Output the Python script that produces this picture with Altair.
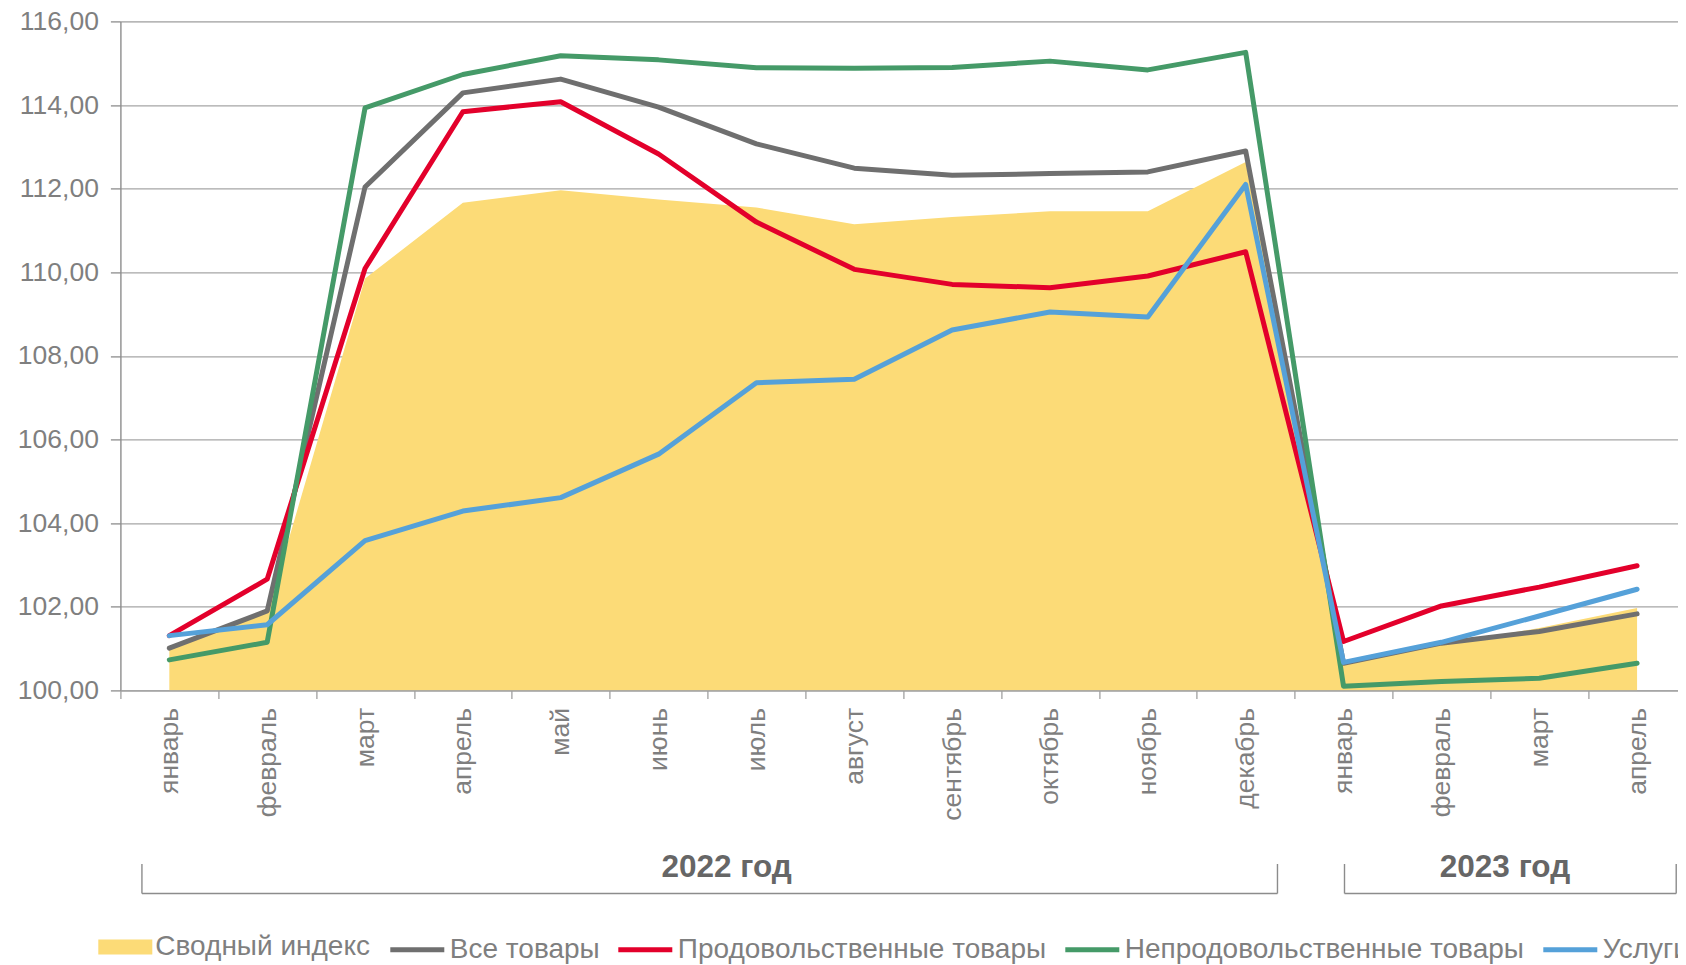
import altair as alt
import pandas as pd

# ---- data ----
MONTHS = ["январь", "февраль", "март", "апрель", "май", "июнь", "июль", "август",
          "сентябрь", "октябрь", "ноябрь", "декабрь",
          "январь", "февраль", "март", "апрель"]
YEARS = [2022] * 12 + [2023] * 4
KEYS = [f"{m} {y}" for m, y in zip(MONTHS, YEARS)]

SERIES = ["Сводный индекс", "Все товары", "Продовольственные товары",
          "Непродовольственные товары", "Услуги"]

SVODNY = [101.00, 101.85, 109.85, 111.66, 111.96, 111.74, 111.55, 111.15,
          111.32, 111.46, 111.46, 112.64, 100.60, 101.10, 101.49, 101.97]
VSE = [101.01, 101.90, 112.04, 114.29, 114.62, 113.95, 113.07, 112.49,
       112.32, 112.36, 112.40, 112.90, 100.65, 101.13, 101.41, 101.83]
PROD = [101.31, 102.66, 110.09, 113.84, 114.08, 112.83, 111.20, 110.07,
        109.71, 109.63, 109.91, 110.49, 101.17, 102.02, 102.47, 102.98]
NEPROD = [100.73, 101.15, 113.93, 114.73, 115.18, 115.08, 114.89, 114.88,
          114.90, 115.05, 114.84, 115.26, 100.10, 100.21, 100.29, 100.65]
USLUGI = [101.31, 101.57, 103.58, 104.29, 104.61, 105.65, 107.36, 107.44,
          108.62, 109.05, 108.93, 112.10, 100.67, 101.15, 101.78, 102.42]

COLORS = ["#FCDB77", "#6F6F6F", "#E3002B", "#459A68", "#55A1D9"]
Y_TICKS = [100, 102, 104, 106, 108, 110, 112, 114, 116]

GROUP_LABELS = ["2022 год", "2023 год"]
GROUP_FIRST = ["январь 2022", "январь 2023"]
GROUP_LAST = ["декабрь 2022", "апрель 2023"]
GROUP_MID = ["июль 2022", "март 2023"]

# ---- tables ----
rows = []
for s, vals in zip(SERIES, [SVODNY, VSE, PROD, NEPROD, USLUGI]):
    for k, v in zip(KEYS, vals):
        rows.append({"key": k, "series": s, "value": v})
df = pd.DataFrame(rows)

FONT = "Liberation Sans"
GRAY_TXT = "#7F7F7F"

W, H = 1557.6, 669
X_RANGE = 1565.6  # the category axis runs on past the page's right edge
TOP = 13.4

AXIS_X = alt.Axis(
    labelExpr="split(datum.label, ' ')[0]", labelAngle=-90, labelAlign="right",
    labelBaseline="middle", labelFontSize=26.5, labelColor=GRAY_TXT, labelFont=FONT,
    tickBand="extent", tickSize=8, labelPadding=9, domainColor="#A0A0A0",
    tickColor="#A0A0A0", domainWidth=1.3, tickWidth=1.3, grid=False, zindex=1,
    labelOverlap=False, labelLimit=0, title=None,
)
AXIS_Y = alt.Axis(
    values=Y_TICKS, labelExpr="replace(format(datum.value, '.2f'), '.', ',')",
    labelFontSize=26.5, labelColor=GRAY_TXT, labelFont=FONT, tickSize=10,
    tickColor="#8C8C8C", domainColor="#8C8C8C", gridColor="#A6A6A6", gridWidth=1.3,
    tickWidth=1.3, domainWidth=1.3, labelPadding=12, title=None, labelOverlap=False,
)
XSCALE = alt.Scale(type="band", domain=KEYS, paddingInner=0, paddingOuter=0,
                   range=[0, X_RANGE])
YSCALE = alt.Scale(domain=[100, 116], zero=False, nice=False)


def xenc(bp=0.5):
    return alt.X("key:N", sort=KEYS, bandPosition=bp, scale=XSCALE, axis=AXIS_X, title=None)


def x2enc(bp):
    return alt.X2("key2:N", bandPosition=bp)


Y = alt.Y("value:Q", scale=YSCALE, axis=AXIS_Y, title=None)

LEG_COMMON = dict(
    orient="none", title=None, padding=0, labelFontSize=28, labelColor=GRAY_TXT,
    labelFont=FONT, labelOffset=3, labelLimit=0, symbolSize=2916,
)
LEG_Y = 949 - 8 - TOP - 29

area = alt.Chart(df[df.series == SERIES[0]]).mark_area(interpolate="linear").encode(
    x=xenc(), y=Y, y2=alt.datum(100),
    fill=alt.Fill("series:N", scale=alt.Scale(domain=[SERIES[0]], range=[COLORS[0]]),
                  legend=alt.Legend(legendX=-22.1, legendY=LEG_Y,
                                    symbolType="M-1,-0.28H1V0.28H-1Z",
                                    symbolStrokeWidth=0, symbolOpacity=1, **LEG_COMMON)),
)

line_legend = alt.Legend(legendX=267.4, legendY=LEG_Y, direction="horizontal", columns=4,
                         symbolType="stroke", symbolStrokeWidth=5, columnPadding=8,
                         **LEG_COMMON)
lines = []
for s in SERIES[1:]:
    lines.append(
        alt.Chart(df[df.series == s]).mark_line(strokeWidth=5, strokeCap="round",
                                                strokeJoin="round").encode(
            x=xenc(), y=Y,
            stroke=alt.Stroke("series:N", scale=alt.Scale(domain=SERIES[1:], range=COLORS[1:]),
                              legend=line_legend),
        )
    )

# year brackets and labels (multi-level category axis)
BR_COLOR = "#8C8C8C"
BR_Y = 893.5 - 8 - TOP
BR_TOP = 864 - 8 - TOP
bracket_pos = [(0.22, 0.825), (0.51, 0.9)]
label_pos = [0.196, 0.15]
annots = []
for i, lab in enumerate(GROUP_LABELS):
    gdf = pd.DataFrame({"key": [GROUP_FIRST[i]], "key2": [GROUP_LAST[i]], "label": [lab]})
    b0, b1 = bracket_pos[i]
    annots.append(alt.Chart(gdf).mark_rule(color=BR_COLOR, strokeWidth=1.4).encode(
        x=xenc(b0), x2=x2enc(b1), y=alt.value(BR_Y)))
    annots.append(alt.Chart(gdf).mark_rule(color=BR_COLOR, strokeWidth=1.4).encode(
        x=xenc(b0), y=alt.value(BR_TOP), y2=alt.value(BR_Y)))
    gdf2 = pd.DataFrame({"key": [GROUP_LAST[i]]})
    annots.append(alt.Chart(gdf2).mark_rule(color=BR_COLOR, strokeWidth=1.4).encode(
        x=xenc(b1), y=alt.value(BR_TOP), y2=alt.value(BR_Y)))
    gdf3 = pd.DataFrame({"key": [GROUP_MID[i]], "label": [lab]})
    annots.append(alt.Chart(gdf3).mark_text(font=FONT, fontSize=31.5, fontWeight="bold",
                                           color="#666666", align="center",
                                           baseline="alphabetic").encode(
        x=xenc(label_pos[i]), y=alt.value(877 - 8 - TOP), text="label:N"))

chart = alt.layer(area, *lines, *annots).properties(
    width=W, height=H,
    padding={"left": 112.4, "top": TOP, "right": 0, "bottom": 957 - TOP - H},
    autosize=alt.AutoSizeParams(type="none"),
).configure_view(stroke=None).configure(font=FONT, background="white")

chart.save("out.html", embed_options={"renderer": "svg", "actions": False})
